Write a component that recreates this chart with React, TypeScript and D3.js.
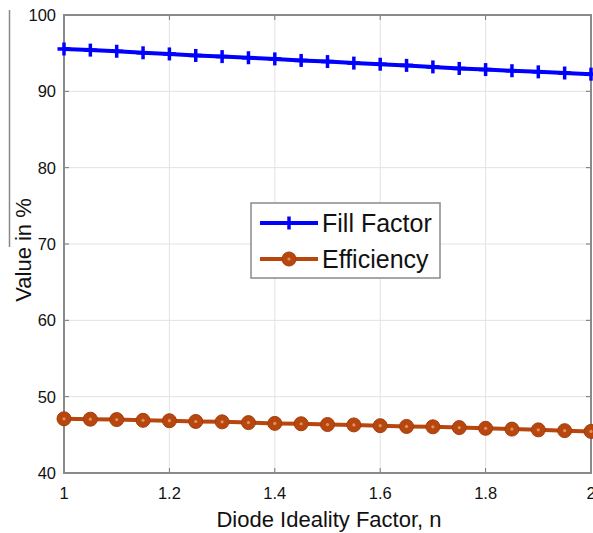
import React from "react";
import * as d3 from "d3";

const nValues = [1.0, 1.05, 1.1, 1.15, 1.2, 1.25, 1.3, 1.35, 1.4, 1.45, 1.5, 1.55, 1.6, 1.65, 1.7, 1.75, 1.8, 1.85, 1.9, 1.95, 2.0];
const fillFactor = [95.55, 95.4, 95.25, 95.05, 94.9, 94.7, 94.55, 94.4, 94.25, 94.05, 93.9, 93.7, 93.55, 93.4, 93.2, 93.0, 92.85, 92.7, 92.55, 92.4, 92.25];
const efficiency = [47.1, 47.05, 47.0, 46.9, 46.85, 46.75, 46.7, 46.6, 46.5, 46.45, 46.35, 46.3, 46.2, 46.1, 46.05, 45.95, 45.85, 45.75, 45.65, 45.55, 45.45];
const xTicks = [1, 1.2, 1.4, 1.6, 1.8, 2];
const xTickLabels = ["1", "1.2", "1.4", "1.6", "1.8", "2"];
const yTicks = [40, 50, 60, 70, 80, 90, 100];
const seriesNames = ["Fill Factor", "Efficiency"];

const W = 593, H = 533;
const L = 64, R = 591, T = 15, B = 473;
const FONT = "Arial, 'Liberation Sans', sans-serif";
const BLUE = "#0000ff";
const BROWN = "#b8460f";

export default function App() {
  const x = d3.scaleLinear().domain([1, 2]).range([L, R]);
  const y = d3.scaleLinear().domain([40, 100]).range([B, T]);
  const line = d3.line<[number, number]>().x(d => x(d[0])).y(d => y(d[1]));
  const ffPts: [number, number][] = nValues.map((n, i) => [n, fillFactor[i]]);
  const efPts: [number, number][] = nValues.map((n, i) => [n, efficiency[i]]);

  const plus = (cx: number, cy: number, k: string, s = 6.5) => (
    <g key={k}>
      <line x1={cx - s} x2={cx + s} y1={cy} y2={cy} stroke={BLUE} strokeWidth={3.5} />
      <line x1={cx} x2={cx} y1={cy - s} y2={cy + s} stroke={BLUE} strokeWidth={3.5} />
    </g>
  );
  const dot = (cx: number, cy: number, k: string) => (
    <g key={k}>
      <circle cx={cx} cy={cy} r={7} fill={BROWN} stroke="#a33d0c" strokeWidth={1} />
      <circle cx={cx} cy={cy} r={1.6} fill="#e0915a" />
    </g>
  );

  return (
    <svg width={W} height={H} style={{ position: "absolute", left: 0, top: 0, background: "#fff" }} fontFamily={FONT}>
      <rect x={0} y={0} width={W} height={H} fill="#fff" />
      <line x1={9.5} x2={9.5} y1={10} y2={247} stroke="#888" strokeWidth={1.5} />
      {xTicks.map((t, i) => (
        <line key={"gx" + i} x1={x(t)} x2={x(t)} y1={T} y2={B} stroke="#e3e3e3" strokeWidth={1} />
      ))}
      {yTicks.map((t, i) => (
        <line key={"gy" + i} x1={L} x2={R} y1={y(t)} y2={y(t)} stroke="#e3e3e3" strokeWidth={1} />
      ))}
      {xTicks.map((t, i) => (
        <g key={"tx" + i}>
          <line x1={x(t)} x2={x(t)} y1={B} y2={B - 5} stroke="#777" strokeWidth={1} />
          <line x1={x(t)} x2={x(t)} y1={T} y2={T + 5} stroke="#777" strokeWidth={1} />
        </g>
      ))}
      {yTicks.map((t, i) => (
        <g key={"ty" + i}>
          <line x1={L} x2={L + 5} y1={y(t)} y2={y(t)} stroke="#777" strokeWidth={1} />
          <line x1={R} x2={R - 5} y1={y(t)} y2={y(t)} stroke="#777" strokeWidth={1} />
        </g>
      ))}
      <rect x={L} y={T} width={R - L} height={B - T} fill="none" stroke="#8a8a8a" strokeWidth={2} />
      {xTicks.map((t, i) => (
        <text key={"lx" + i} x={x(t)} y={499} fontSize={16.5} textAnchor="middle" fill="#111">{xTickLabels[i]}</text>
      ))}
      {yTicks.map((t, i) => (
        <text key={"ly" + i} x={56} y={y(t) + 6} fontSize={16.5} textAnchor="end" fill="#111">{t}</text>
      ))}
      <path d={line(ffPts) || ""} fill="none" stroke={BLUE} strokeWidth={4} />
      {ffPts.map((p, i) => plus(x(p[0]), y(p[1]), "ff" + i))}
      <path d={line(efPts) || ""} fill="none" stroke={BROWN} strokeWidth={4} />
      {efPts.map((p, i) => dot(x(p[0]), y(p[1]), "ef" + i))}
      <text x={329} y={527} fontSize={22} textAnchor="middle" fill="#111">Diode Ideality Factor, n</text>
      <text transform="translate(31,250) rotate(-90)" fontSize={22} textAnchor="middle" fill="#111">Value in %</text>
      <rect x={251} y={203} width={189} height={75} fill="#fff" stroke="#8a8a8a" strokeWidth={1.5} />
      <line x1={260} x2={318} y1={223} y2={223} stroke={BLUE} strokeWidth={4} />
      {plus(289, 223, "lg1")}
      <text x={322} y={232} fontSize={25} fill="#111">{seriesNames[0]}</text>
      <line x1={260} x2={318} y1={259} y2={259} stroke={BROWN} strokeWidth={4} />
      {dot(289, 259, "lg2")}
      <text x={322} y={268} fontSize={25} fill="#111">{seriesNames[1]}</text>
    </svg>
  );
}
